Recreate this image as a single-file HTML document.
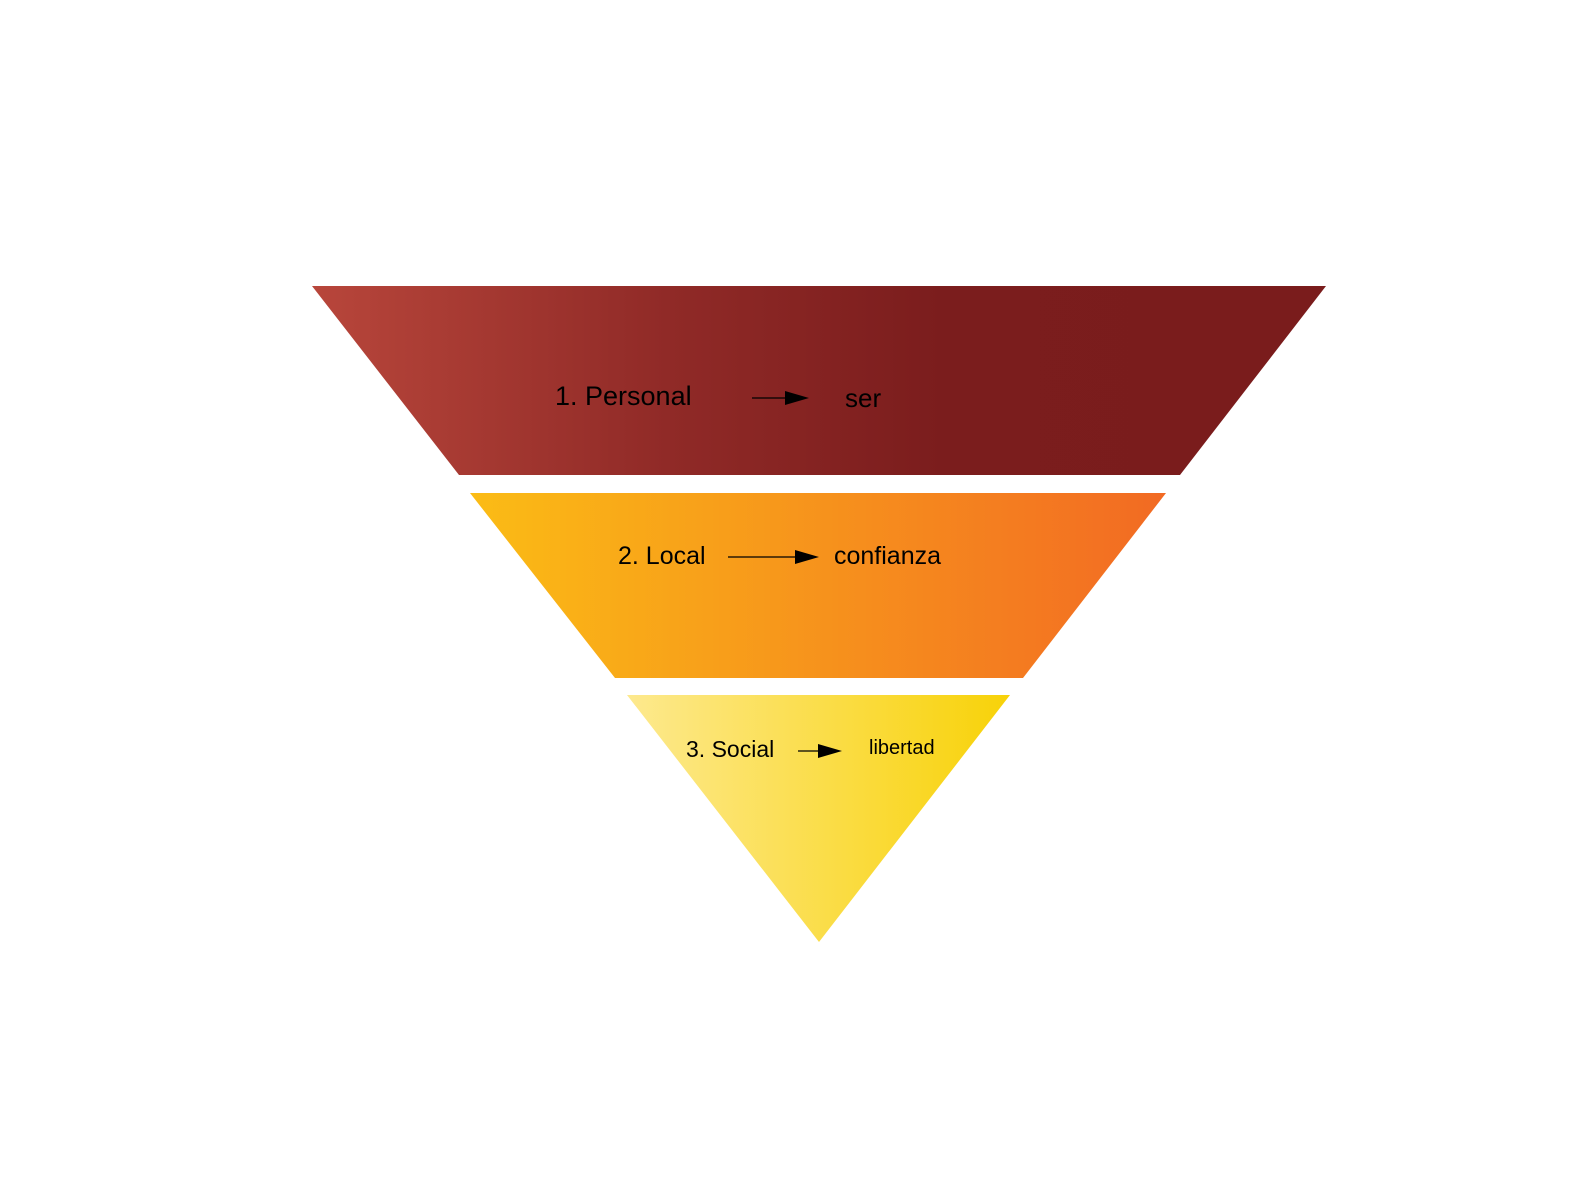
<!DOCTYPE html>
<html><head><meta charset="utf-8"><style>
html,body{margin:0;padding:0;background:#fff;}
svg{display:block;}
text{font-family:"Liberation Sans",sans-serif;fill:#000;}
</style></head><body>
<svg width="1587" height="1190" viewBox="0 0 1587 1190" xmlns="http://www.w3.org/2000/svg">
<defs>
<linearGradient id="g1" x1="312" y1="0" x2="1326" y2="0" gradientUnits="userSpaceOnUse">
<stop offset="0" stop-color="#b8463b"/><stop offset="0.35" stop-color="#902a27"/><stop offset="0.62" stop-color="#7b1d1d"/><stop offset="1" stop-color="#7a1c1c"/>
</linearGradient>
<linearGradient id="g2" x1="470" y1="0" x2="1166" y2="0" gradientUnits="userSpaceOnUse">
<stop offset="0" stop-color="#fbbc15"/><stop offset="1" stop-color="#f26a23"/>
</linearGradient>
<linearGradient id="g3" x1="627" y1="0" x2="1010" y2="0" gradientUnits="userSpaceOnUse">
<stop offset="0" stop-color="#fde98e"/><stop offset="1" stop-color="#f8d208"/>
</linearGradient>
</defs>
<polygon points="312,286 1326,286 1180,475 459,475" fill="url(#g1)"/>
<polygon points="470,493 1166,493 1023,678 615,678" fill="url(#g2)"/>
<polygon points="627,695 1010,695 819,942" fill="url(#g3)"/>

<text x="555" y="405" font-size="27">1. Personal</text>
<line x1="752" y1="398" x2="785" y2="398" stroke="#000" stroke-width="1.3"/>
<path d="M785,391 L809,398 L785,405 Z" fill="#000"/>
<text x="845" y="407" font-size="26">ser</text>

<text x="618" y="564" font-size="25">2. Local</text>
<line x1="728" y1="557" x2="795" y2="557" stroke="#000" stroke-width="1.3"/>
<path d="M795,550 L819,557 L795,564 Z" fill="#000"/>
<text x="834" y="564" font-size="25">confianza</text>

<text x="686" y="757" font-size="23">3. Social</text>
<line x1="798" y1="751" x2="818" y2="751" stroke="#000" stroke-width="1.3"/>
<path d="M818,744 L842,751 L818,758 Z" fill="#000"/>
<text x="869" y="754" font-size="20">libertad</text>
</svg>
</body></html>
